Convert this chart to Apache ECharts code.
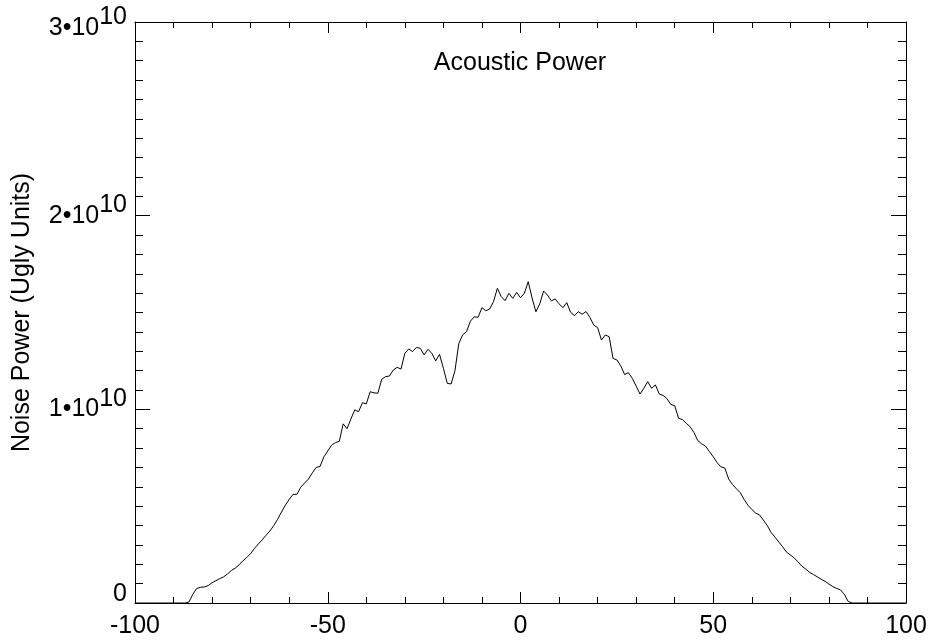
<!DOCTYPE html>
<html>
<head>
<meta charset="utf-8">
<script src="https://cdn.jsdelivr.net/npm/echarts@6/dist/echarts.min.js"></script>
<style>
  html, body { margin: 0; padding: 0; background: #fff; }
  #chart { width: 930px; height: 644px; }
</style>
</head>
<body>
<div id="chart"></div>
<script>
// Angle values (x) and acoustic noise power (in units of 1e10)
const angles = [
  -100,-99,-98,-97,-96,-95,-94,-93,-92,-91,-90,-89,-88,-87,-86,-85,-84,-83,-82,-81,
  -80,-79,-78,-77,-76,-75,-74,-73,-72,-71,-70,-69,-68,-67,-66,-65,-64,-63,-62,-61,
  -60,-59,-58,-57,-56,-55,-54,-53,-52,-51,-50,-49,-48,-47,-46,-45,-44,-43,-42,-41,
  -40,-39,-38,-37,-36,-35,-34,-33,-32,-31,-30,-29,-28,-27,-26,-25,-24,-23,-22,-21,
  -20,-19,-18,-17,-16,-15,-14,-13,-12,-11,-10,-9,-8,-7,-6,-5,-4,-3,-2,-1,
  0,1,2,3,4,5,6,7,8,9,10,11,12,13,14,15,16,17,18,19,
  20,21,22,23,24,25,26,27,28,29,30,31,32,33,34,35,36,37,38,39,
  40,41,42,43,44,45,46,47,48,49,50,51,52,53,54,55,56,57,58,59,
  60,61,62,63,64,65,66,67,68,69,70,71,72,73,74,75,76,77,78,79,
  80,81,82,83,84,85,86,87,88,89,90,91,92,93,94,95,96,97,98,99,100
];
const powerE10 = [
  0,0,0,0,0,0,0,0,0,0,0,0,0,0,0.005,0.045,0.075,0.081,0.083,0.090,
  0.105,0.115,0.126,0.135,0.150,0.168,0.180,0.197,0.218,0.235,0.255,0.282,0.305,0.326,0.350,0.372,0.400,0.432,0.470,0.505,
  0.535,0.561,0.561,0.598,0.620,0.640,0.672,0.700,0.705,0.755,0.785,0.815,0.828,0.835,0.925,0.900,0.950,0.997,0.988,1.034,
  1.028,1.091,1.085,1.083,1.155,1.169,1.172,1.203,1.217,1.208,1.289,1.312,1.298,1.320,1.315,1.281,1.310,1.289,1.250,1.284,
  1.212,1.134,1.131,1.200,1.340,1.385,1.401,1.455,1.478,1.475,1.525,1.509,1.518,1.556,1.625,1.582,1.561,1.599,1.573,1.604,
  1.576,1.599,1.659,1.575,1.504,1.545,1.611,1.590,1.560,1.570,1.545,1.525,1.551,1.501,1.484,1.504,1.491,1.505,1.475,1.435,
  1.422,1.358,1.384,1.375,1.263,1.255,1.225,1.180,1.189,1.160,1.120,1.079,1.109,1.143,1.109,1.126,1.079,1.072,1.055,1.025,
  1.019,0.954,0.947,0.928,0.910,0.880,0.838,0.822,0.810,0.782,0.755,0.725,0.703,0.697,0.640,0.612,0.590,0.570,0.535,0.505,
  0.483,0.464,0.455,0.428,0.400,0.365,0.340,0.315,0.290,0.263,0.248,0.233,0.212,0.190,0.175,0.158,0.147,0.135,0.123,0.112,
  0.098,0.085,0.075,0.068,0.045,0.008,0,0,0,0,0,0,0,0,0,0,0,0,0,0,0
];
const xTicks = { min: -100, max: 100, interval: 50 };
const yTicks = { min: 0, max: 3, interval: 1 };
const titleText = 'Acoustic Power';
const yName = 'Noise Power (Ugly Units)';

const FONT = 'Liberation Sans, Arial, Helvetica, sans-serif';
const FS = 25;
const chart = echarts.init(document.getElementById('chart'), null, { renderer: 'canvas' });

const lineStyle = { color: '#000', width: 1 };
const baseX = {
  type: 'value', min: xTicks.min, max: xTicks.max, interval: xTicks.interval,
  axisLine: { show: true, onZero: false, lineStyle },
  axisTick: { show: true, inside: true, length: 11, lineStyle },
  minorTick: { show: true, splitNumber: 5, length: 6, lineStyle },
  splitLine: { show: false }, minorSplitLine: { show: false }
};
const baseY = {
  type: 'value', min: yTicks.min, max: yTicks.max, interval: yTicks.interval,
  axisLine: { show: true, onZero: false, lineStyle },
  axisTick: { show: true, inside: true, length: 15, lineStyle },
  minorTick: { show: true, splitNumber: 10, length: 8, lineStyle },
  splitLine: { show: false }, minorSplitLine: { show: false }
};

const data = angles.map((a, i) => [a, powerE10[i]]);

chart.setOption({
  animation: false,
  backgroundColor: '#fff',
  title: {
    text: titleText, left: 515, top: 46, textAlign: 'center',
    textStyle: { fontFamily: FONT, fontSize: FS, fontWeight: 'normal', color: '#000' }
  },
  grid: { left: 135, right: 24, top: 22, bottom: 41, containLabel: false },
  xAxis: [
    Object.assign({}, baseX, {
      position: 'bottom',
      axisLabel: { show: true, margin: 11, color: '#000', fontFamily: FONT, fontSize: FS }
    }),
    Object.assign({}, baseX, { position: 'top', axisLabel: { show: false } })
  ],
  yAxis: [
    Object.assign({}, baseY, {
      position: 'left',
      name: yName, nameLocation: 'middle', nameGap: 100, nameRotate: 90,
      nameTextStyle: { fontFamily: FONT, fontSize: FS, color: '#000' },
      axisLabel: {
        show: true, margin: 8, color: '#000', fontFamily: FONT, fontSize: FS,
        formatter: function (v) {
          if (v === 0) return '{z|0}';
          if (v === yTicks.max) return '{t|' + v + '•10}{ts|10}';
          return '{m|' + v + '•10}{s|10}';
        },
        rich: {
          z:  { fontFamily: FONT, fontSize: FS, color: '#000', verticalAlign: 'middle', padding: [0, 0, 18, 0] },
          m:  { fontFamily: FONT, fontSize: FS, color: '#000', verticalAlign: 'middle' },
          s:  { fontFamily: FONT, fontSize: FS, color: '#000', verticalAlign: 'middle', padding: [0, 0, 21, 0] },
          t:  { fontFamily: FONT, fontSize: FS, color: '#000', verticalAlign: 'middle', padding: [12, 0, 0, 0] },
          ts: { fontFamily: FONT, fontSize: FS, color: '#000', verticalAlign: 'middle', padding: [0, 0, 9, 0] }
        }
      }
    }),
    Object.assign({}, baseY, { position: 'right', axisLabel: { show: false } })
  ],
  series: [{
    type: 'line', xAxisIndex: 0, yAxisIndex: 0,
    data: data, showSymbol: false, symbol: 'none',
    lineStyle: { color: '#000', width: 1 },
    itemStyle: { color: '#000' },
    silent: true
  }]
});
</script>
</body>
</html>
